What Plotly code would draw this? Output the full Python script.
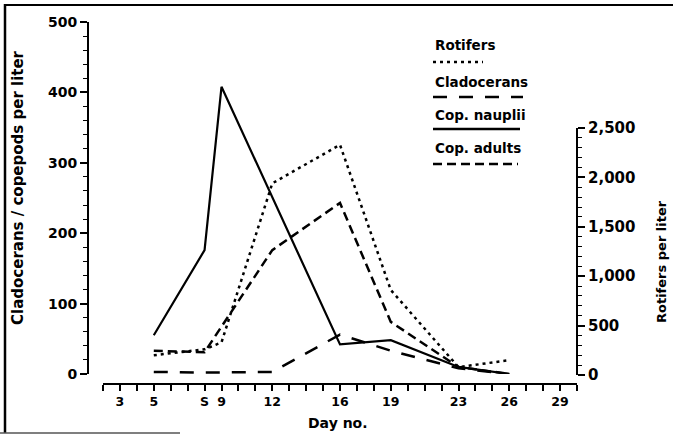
import plotly.graph_objects as go

# ---------------- data ----------------
days_rot = [5, 8, 9, 12, 16, 19, 23, 26]
rotifers = [200, 260, 330, 1940, 2330, 860, 80, 150]

days_clad = [5, 8, 12, 16, 19, 23, 26]
cladocerans = [3, 2, 3, 56, 33, 8, 0]

days_naup = [5, 8, 9, 12, 16, 19, 23, 26]
nauplii = [55, 176, 408, 252, 42, 48, 10, 0]

days_adult = [5, 8, 12, 16, 19, 23, 26]
adults = [33, 31, 176, 243, 74, 10, 0]

x_tick_days = list(range(2, 31))
x_label_map = {3: "3", 5: "5", 8: "S", 9: "9", 12: "12", 16: "16",
               19: "19", 23: "23", 26: "26", 29: "29"}
x_tick_text = [x_label_map.get(d, "") for d in x_tick_days]

legend_names = ["Rotifers", "Cladocerans", "Cop. nauplii", "Cop. adults"]

# ---------------- geometry helpers ----------------
W, H = 678, 435
L, R, T, B = 88, 101, 22, 51
PW, PH = W - L - R, H - T - B


def px_x(x):
    return (x - L) / PW


def px_y(y):
    return (H - B - y) / PH


FONT = "DejaVu Sans"
BLACK = "#000000"

DOT = "3px,4px"
LONGDASH = "14px,12px"
ADULTDASH = "9px,5px"

fig = go.Figure()

fig.add_trace(go.Scatter(x=days_rot, y=rotifers, yaxis="y2", mode="lines",
                         line=dict(color=BLACK, width=2.5, dash=DOT),
                         name=legend_names[0], showlegend=False))
fig.add_trace(go.Scatter(x=days_clad, y=cladocerans, mode="lines",
                         line=dict(color=BLACK, width=2.5, dash=LONGDASH),
                         name=legend_names[1], showlegend=False))
fig.add_trace(go.Scatter(x=days_naup, y=nauplii, mode="lines",
                         line=dict(color=BLACK, width=2.2),
                         name=legend_names[2], showlegend=False))
fig.add_trace(go.Scatter(x=days_adult, y=adults, mode="lines",
                         line=dict(color=BLACK, width=2.5, dash=ADULTDASH),
                         name=legend_names[3], showlegend=False))

fig.update_layout(
    width=W, height=H,
    margin=dict(l=L, r=R, t=T, b=B, pad=0),
    paper_bgcolor="white",
    plot_bgcolor="rgba(0,0,0,0)",
    showlegend=False,
    xaxis=dict(
        range=[2, 30], domain=[px_x(103), 1], anchor="free", position=0,
        showline=True, linewidth=2, linecolor=BLACK,
        ticks="outside", ticklen=6, tickwidth=1.5, tickcolor=BLACK,
        tickmode="array", tickvals=x_tick_days, ticktext=x_tick_text,
        tickfont=dict(family=FONT, size=12.5, color=BLACK, weight="bold"),
        showgrid=False, zeroline=False, fixedrange=True,
    ),
    yaxis=dict(
        range=[0, 500], domain=[px_y(374), 1], anchor="free", position=0,
        side="left", showline=True, linewidth=2, linecolor=BLACK,
        ticks="outside", ticklen=7, tickwidth=1.5, tickcolor=BLACK,
        dtick=100, tick0=0,
        minor=dict(ticks="outside", ticklen=4, tickwidth=1.2, dtick=20,
                   tickcolor=BLACK),
        tickfont=dict(family=FONT, size=14, color=BLACK, weight="bold"),
        showgrid=False, zeroline=False,
    ),
    yaxis2=dict(
        range=[0, 2500], domain=[px_y(375), px_y(128)], anchor="free",
        position=1, side="right", showline=True, linewidth=2,
        linecolor=BLACK,
        ticks="outside", ticklen=7, tickwidth=1.5, tickcolor=BLACK,
        dtick=500, tick0=0, tickformat=",d",
        minor=dict(ticks="outside", ticklen=4, tickwidth=1.2, dtick=100,
                   tickcolor=BLACK),
        tickfont=dict(family=FONT, size=15, color=BLACK, weight="bold"),
        showgrid=False, zeroline=False,
    ),
)

annotations = [
    dict(text="Cladocerans / copepods per liter", x=px_x(18), y=px_y(188),
         textangle=-90, font=dict(family=FONT, size=15, color=BLACK,
                                  weight="bold")),
    dict(text="Rotifers per liter", x=px_x(661), y=px_y(262), textangle=-90,
         font=dict(family=FONT, size=13, color=BLACK, weight="bold")),
    dict(text="Day no.", x=px_x(338), y=px_y(423),
         font=dict(family=FONT, size=14, color=BLACK, weight="bold")),
]
for a in annotations:
    a.update(xref="paper", yref="paper", showarrow=False,
             xanchor="center", yanchor="middle")

legend_text_y = [45, 82, 115, 148]
legend_line_y = [62, 97, 129, 164]
legend_line_x1 = [483, 523, 520, 518]
legend_dash = [DOT, LONGDASH, "solid", ADULTDASH]
legend_width = [2.5, 2.5, 2.5, 2.5]

shapes = []
for name, ty, ly, x1, dsh, wd in zip(legend_names, legend_text_y,
                                     legend_line_y, legend_line_x1,
                                     legend_dash, legend_width):
    annotations.append(dict(text=name, x=px_x(433), y=px_y(ty),
                            xref="paper", yref="paper", showarrow=False,
                            xanchor="left", yanchor="middle",
                            font=dict(family=FONT, size=13.5, color=BLACK,
                                      weight="bold")))
    shapes.append(dict(type="line", xref="paper", yref="paper",
                       x0=px_x(433), x1=px_x(x1), y0=px_y(ly), y1=px_y(ly),
                       line=dict(color=BLACK, width=wd, dash=dsh)))

# figure frame
shapes.append(dict(type="line", xref="paper", yref="paper",
                   x0=px_x(5), x1=px_x(5), y0=px_y(4), y1=px_y(433),
                   line=dict(color=BLACK, width=2.5)))
shapes.append(dict(type="line", xref="paper", yref="paper",
                   x0=px_x(4), x1=px_x(673), y0=px_y(5), y1=px_y(5),
                   line=dict(color=BLACK, width=2)))
shapes.append(dict(type="line", xref="paper", yref="paper",
                   x0=px_x(0), x1=px_x(180), y0=px_y(433), y1=px_y(433),
                   line=dict(color="#555555", width=1.5)))

fig.update_layout(annotations=annotations, shapes=shapes)

fig.write_html(
    "out.html",
    config={"displayModeBar": False},
    post_script="document.body.style.margin='0';"
                "document.body.style.padding='0';",
)
